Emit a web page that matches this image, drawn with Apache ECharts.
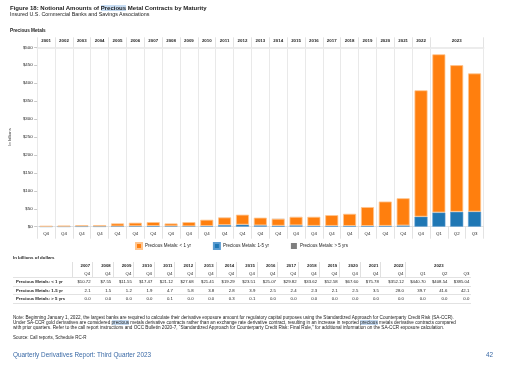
<!DOCTYPE html>
<html><head><meta charset="utf-8">
<script src="https://cdn.jsdelivr.net/npm/echarts@6/dist/echarts.min.js"></script>
<style>
html,body{margin:0;padding:0;background:#fff;}
body{width:512px;height:366px;position:relative;overflow:hidden;font-family:"Liberation Sans",Arial,sans-serif;color:#222;}
.t{position:absolute;white-space:nowrap;line-height:1;}
.hl{background:#c8def5;}
#tbl{position:absolute;left:13px;top:262px;border-collapse:collapse;font-size:4.3px;table-layout:fixed;}
#tbl td{padding:0 2px;height:7.6px;line-height:7.6px;text-align:right;white-space:nowrap;border-bottom:0.6px solid #e2e2e2;}
#tbl td.lab{text-align:left;font-weight:bold;padding-left:3px;}
#tbl tr.h td{font-weight:bold;border-bottom:none;}
#tbl tr.h td.c, #tbl tr.q td.c{border-left:0.8px solid #e0e0e0;}
#tbl tr.h td.c{text-align:right;}
#tbl tr.h td.g{text-align:center;}
</style>
</head><body>
<div id="chart" style="position:absolute;left:0;top:0;width:512px;height:366px;"></div>
<div class="t" style="left:10px;top:5px;font-size:6px;font-weight:bold;">Figure 18: Notional Amounts of <span class="hl">Precious</span> Metal Contracts by Maturity</div>
<div class="t" style="left:10px;top:12px;font-size:5.4px;">Insured U.S. Commercial Banks and Savings Associations</div>
<div class="t" style="left:10px;top:28.8px;font-size:4.7px;font-weight:bold;">Precious Metals</div>
<div class="t" style="left:13px;top:255.5px;font-size:4.4px;font-weight:bold;">In billions of dollars</div>
<table id="tbl"></table>
<div class="t" id="note" style="left:13px;top:314.8px;font-size:4.65px;line-height:5.3px;color:#222;"></div>
<div class="t" style="left:13px;top:336px;font-size:4.5px;">Source: Call reports, Schedule RC-R</div>
<div class="t" style="left:13px;top:352px;font-size:6.4px;color:#3b6aa6;">Quarterly Derivatives Report: Third Quarter 2023</div>
<div class="t" style="left:486px;top:352px;font-size:6.4px;color:#3b6aa6;">42</div>
<script>
// ---- data ----
const yearLabels = ['2001','2002','2003','2004','2005','2006','2007','2008','2009','2010','2011','2012','2013','2014','2015','2016','2017','2018','2019','2020','2021','2022','2023','2023','2023'];
const quarterLabels = ['Q4','Q4','Q4','Q4','Q4','Q4','Q4','Q4','Q4','Q4','Q4','Q4','Q4','Q4','Q4','Q4','Q4','Q4','Q4','Q4','Q4','Q4','Q1','Q2','Q3'];
const topLabels = ['2001','2002','2003','2004','2005','2006','2007','2008','2009','2010','2011','2012','2013','2014','2015','2016','2017','2018','2019','2020','2021','2022','','2023',''];
const lessThan1 = [1.6,2.6,3.6,3.8,8.2,9.6,10.72,7.55,11.55,17.47,21.12,27.68,21.41,19.29,23.51,25.07,29.82,33.62,52.58,67.60,75.78,352.12,440.70,408.54,385.04];
const oneToFive = [0.4,0.5,0.8,0.7,1.0,1.5,2.1,1.5,1.2,1.9,4.7,5.8,3.8,2.8,3.9,2.5,2.4,2.3,2.1,2.5,3.5,28.0,39.7,41.6,42.1];
const overFive = [0.0,0.0,0.0,0.0,0.0,0.0,0.0,0.0,0.0,0.0,0.1,0.0,0.0,0.3,0.1,0.0,0.0,0.0,0.0,0.0,0.0,0.0,0.0,0.0,0.0];
const yTicks = [0,50,100,150,200,250,300,350,400,450,500];
const seriesNames = ['Precious Metals: < 1 yr','Precious Metals: 1-5 yr','Precious Metals: > 5 yrs'];
const tableStart = 6; // table shows 2007 onward
const noteLines = [
 'Note: Beginning January 1, 2022, the largest banks are required to calculate their derivative exposure amount for regulatory capital purposes using the Standardized Approach for Counterparty Credit Risk (SA-CCR).',
 'Under SA-CCR gold derivatives are considered <span class="hl">precious</span> metals derivative contracts rather than an exchange rate derivative contract, resulting in an increase in reported <span class="hl">precious</span> metals derivative contracts compared',
 'with prior quarters. Refer to the call report instructions and OCC Bulletin 2020-7, \u201cStandardized Approach for Counterparty Credit Risk: Final Rule,\u201d for additional information on the SA-CCR exposure calculation.'
];

// ---- note ----
document.getElementById('note').innerHTML = noteLines.join('<br>');

// ---- table ----
(function(){
  let html = '<colgroup><col style="width:59px">';
  for (let i = tableStart; i < yearLabels.length; i++) {
    let w = 20.6;
    if (yearLabels[i] === '2022') w = 25;
    if (quarterLabels[i] !== 'Q4') w = 21.8;
    html += '<col style="width:' + w + 'px">';
  }
  html += '</colgroup>';
  html += '<tr class="h"><td class="lab"></td>';
  let i = tableStart;
  while (i < yearLabels.length) {
    let span = 1;
    while (i + span < yearLabels.length && yearLabels[i+span] === yearLabels[i]) span++;
    html += '<td class="c' + (span > 1 ? ' g' : '') + '" colspan="' + span + '">' + yearLabels[i] + '</td>';
    i += span;
  }
  html += '</tr>';
  html += '<tr class="q"><td class="lab"></td>';
  for (let j = tableStart; j < yearLabels.length; j++) {
    const first = j === tableStart || yearLabels[j] !== yearLabels[j-1];
    html += '<td class="' + (first ? 'c' : '') + '">' + quarterLabels[j] + '</td>';
  }
  html += '</tr>';
  const rows = [
    [seriesNames[0], lessThan1, v => '$' + v.toFixed(2)],
    [seriesNames[1], oneToFive, v => v.toFixed(1)],
    [seriesNames[2], overFive, v => v.toFixed(1)]
  ];
  rows.forEach(r => {
    html += '<tr><td class="lab">' + r[0].replace('<','&lt;').replace('>','&gt;') + '</td>';
    for (let j = tableStart; j < yearLabels.length; j++) html += '<td>' + r[2](r[1][j]) + '</td>';
    html += '</tr>';
  });
  document.getElementById('tbl').innerHTML = html;
})();

// ---- chart ----
const chart = echarts.init(document.getElementById('chart'), null, {renderer:'canvas'});
const n = quarterLabels.length;
const skipInGroup = (idx) => !(idx > 0 && idx < n && yearLabels[idx] === yearLabels[idx-1]);
const FONT = '"Liberation Sans", Arial, sans-serif';
chart.setOption({
  animation: false,
  textStyle: {fontFamily: FONT},
  grid: {left: 36, right: 28.5, top: 47.3, bottom: 139.3, containLabel: false},
  legend: {
    data: seriesNames, left: 135, top: 242, padding: 0, icon: 'rect', itemWidth: 6, itemHeight: 6, itemGap: 22,
    textStyle: {fontSize: 4.5, color: '#222', fontFamily: FONT, padding: [0,0,0,-2]}
  },
  xAxis: [
    {
      type: 'category', data: quarterLabels, position: 'bottom',
      axisLine: {show: true, lineStyle: {color: '#dcdcdc', width: 0.8}},
      axisTick: {show: true, length: 12, interval: 0, lineStyle: {color: '#dcdcdc', width: 0.8}},
      axisLabel: {interval: 0, fontSize: 4.4, color: '#222', margin: 5},
      splitLine: {show: true, interval: (idx) => skipInGroup(idx), lineStyle: {color: '#e3e3e3', width: 0.8}}
    },
    {
      type: 'category', data: topLabels, position: 'top',
      axisLine: {show: true, lineStyle: {color: '#ececec', width: 2}},
      axisTick: {show: true, length: 10, interval: (idx) => skipInGroup(idx), lineStyle: {color: '#dcdcdc', width: 0.8}},
      axisLabel: {interval: 0, fontSize: 4.4, fontWeight: 'bold', color: '#222', margin: 4.5},
      splitLine: {show: false}
    }
  ],
  yAxis: {
    type: 'value', min: yTicks[0], max: yTicks[yTicks.length-1], interval: yTicks[1]-yTicks[0],
    name: 'In billions', nameLocation: 'middle', nameGap: 18, nameRotate: 90,
    nameTextStyle: {fontSize: 4.2, color: '#444'},
    axisLine: {show: false},
    axisTick: {show: true, length: 3, lineStyle: {color: '#bbb', width: 0.8}},
    axisLabel: {fontSize: 4.4, color: '#222', margin: 4.5, formatter: v => '$' + v},
    splitLine: {show: false}
  },
  series: [
    {name: seriesNames[1], type: 'bar', stack: 'all', data: oneToFive, barCategoryGap: '27%',
     itemStyle: {color: '#1f77b4', borderColor: '#5a9bd0', borderWidth: 0.6}},
    {name: seriesNames[0], type: 'bar', stack: 'all', data: lessThan1, barCategoryGap: '27%',
     itemStyle: {color: '#ff7f0e', borderColor: '#ffc58f', borderWidth: 0.8}},
    {name: seriesNames[2], type: 'bar', stack: 'all', data: overFive, barCategoryGap: '27%',
     itemStyle: {color: '#7f7f7f'}}
  ]
});
</script>
</body></html>
